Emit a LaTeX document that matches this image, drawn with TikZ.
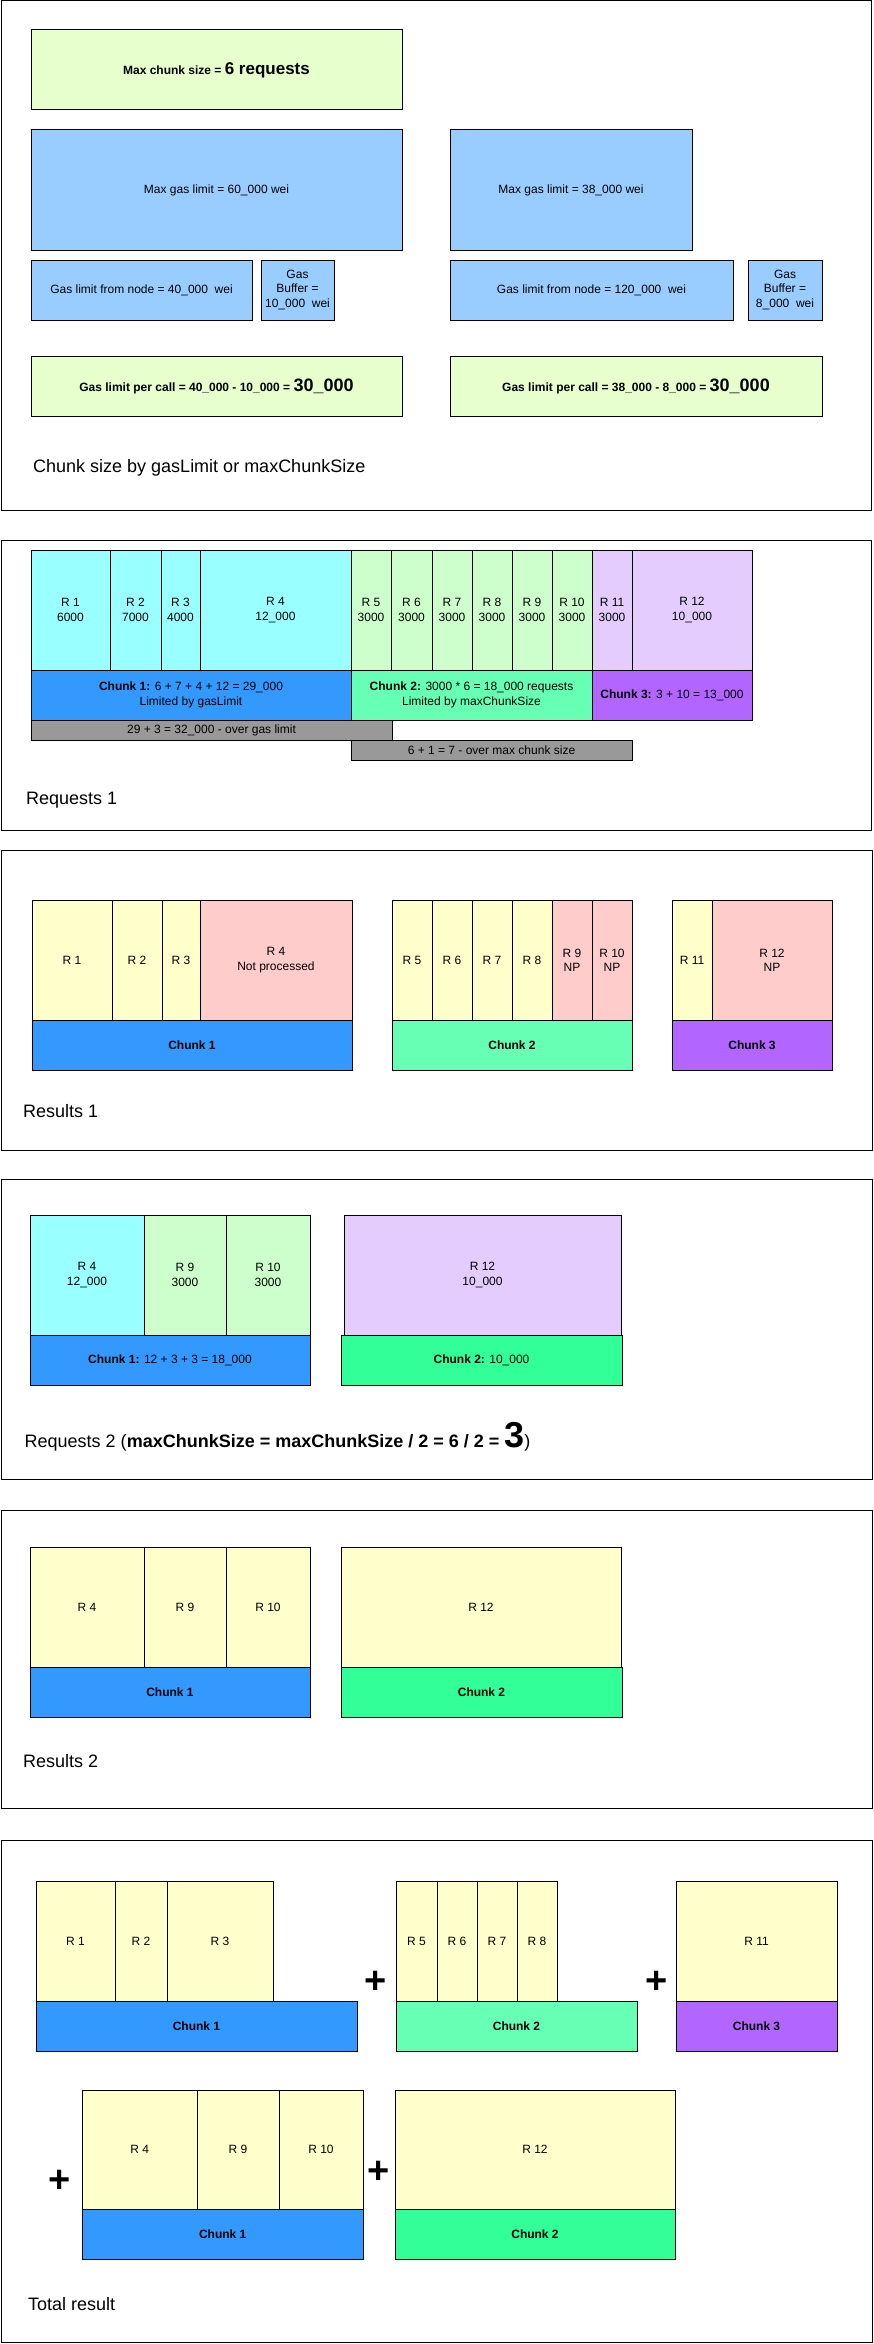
\documentclass[tikz,border=0pt]{standalone}
\usepackage{fontspec}
\setmainfont{Liberation Sans}
\definecolor{cLG}{HTML}{E6FFCC}
\definecolor{cBL}{HTML}{99CCFF}
\definecolor{cCY}{HTML}{99FFFF}
\definecolor{cRG}{HTML}{CCFFCC}
\definecolor{cLV}{HTML}{E5CCFF}
\definecolor{cC1}{HTML}{3399FF}
\definecolor{cC2}{HTML}{66FFB3}
\definecolor{cC3}{HTML}{B266FF}
\definecolor{cC4}{HTML}{33FF99}
\definecolor{cGR}{HTML}{999999}
\definecolor{cYE}{HTML}{FFFFCC}
\definecolor{cPK}{HTML}{FFCCCC}
\tikzset{
  box/.style={draw=black, line width=1pt, inner sep=0pt, outer sep=0pt, align=center,
    font=\fontsize{12}{14.4}\selectfont},
  panel/.style={draw=black, line width=1pt},
  title/.style={anchor=west, inner sep=0pt, font=\fontsize{18}{21.6}\selectfont},
  plussign/.style={anchor=base, inner sep=0pt, font=\fontsize{38}{40}\selectfont\bfseries},
}
\newcommand\bx[7]{\node[box,#2,minimum width={(#5-#3)*1pt},minimum height={(#6-#4)*1pt}] (#1) at ({(#3+#5)/2},{(#4+#6)/2}) {#7};}
\begin{document}
\begin{tikzpicture}[x=1pt,y=-1pt]
\useasboundingbox[fill=white] (0,0) rectangle (873,2344);
% panels
\draw[panel] (1,1) rectangle (871,510);
\draw[panel] (1,540) rectangle (871,830);
\draw[panel] (1.5,850) rectangle (872,1150);
\draw[panel] (1.5,1179) rectangle (872,1479);
\draw[panel] (1.5,1510) rectangle (872,1808);
\draw[panel] (1.5,1840) rectangle (872,2342);
% ---------- panel 1
\bx{maxchunk}{fill=cLG}{31}{30}{402}{110}{\textbf{Max chunk size = {\fontsize{17}{20}\selectfont 6 requests}}}
\bx{maxgasA}{fill=cBL}{31}{130}{402}{250}{Max gas limit = 60\_000 wei}
\bx{maxgasB}{fill=cBL}{450}{130}{692}{250}{Max gas limit = 38\_000 wei}
\bx{nodeA}{fill=cBL}{31}{260}{252}{320}{Gas limit from node = 40\_000\ \ wei}
\bx{bufA}{fill=cBL}{261}{260}{334}{320}{Gas\\Buffer =\\10\_000\ \ wei}
\bx{nodeB}{fill=cBL}{450}{260}{733}{320}{Gas limit from node = 120\_000\ \ wei}
\bx{bufB}{fill=cBL}{748}{260}{822}{320}{Gas\\Buffer =\\8\_000\ \ wei}
\bx{callA}{fill=cLG}{31}{356}{402}{416}{\textbf{Gas limit per call = 40\_000 - 10\_000 = {\fontsize{18}{21}\selectfont 30\_000}}}
\bx{callB}{fill=cLG}{450}{356}{822}{416}{\textbf{Gas limit per call = 38\_000 - 8\_000 = {\fontsize{18}{21}\selectfont 30\_000}}}
\node[title] (t1) at (33,468) {Chunk size by gasLimit or maxChunkSize};
% ---------- panel 2
\bx{r1}{fill=cCY}{31}{550}{110}{670}{R 1\\6000}
\bx{r2}{fill=cCY}{110}{550}{161}{670}{R 2\\7000}
\bx{r3}{fill=cCY}{161}{550}{200}{670}{R 3\\4000}
\bx{r4}{fill=cCY}{200}{550}{351}{670}{R 4\\12\_000}
\bx{r5}{fill=cRG}{351}{550}{391}{670}{R 5\\3000}
\bx{r6}{fill=cRG}{391}{550}{432}{670}{R 6\\3000}
\bx{r7}{fill=cRG}{432}{550}{472}{670}{R 7\\3000}
\bx{r8}{fill=cRG}{472}{550}{512}{670}{R 8\\3000}
\bx{r9}{fill=cRG}{512}{550}{552}{670}{R 9\\3000}
\bx{r10}{fill=cRG}{552}{550}{592}{670}{R 10\\3000}
\bx{r11}{fill=cLV}{592}{550}{632}{670}{R 11\\3000}
\bx{r12}{fill=cLV}{632}{550}{752}{670}{R 12\\10\_000}
\bx{ch1}{fill=cC1}{31}{670}{351}{720}{\textbf{Chunk 1:} 6 + 7 + 4 + 12 = 29\_000\\Limited by gasLimit}
\bx{ch2}{fill=cC2}{351}{670}{592}{720}{\textbf{Chunk 2:} 3000 * 6 = 18\_000 requests\\Limited by maxChunkSize}
\bx{ch3}{fill=cC3}{592}{670}{752}{720}{\textbf{Chunk 3:} 3 + 10 = 13\_000}
\bx{gray1}{fill=cGR}{31}{720}{392}{740}{29 + 3 = 32\_000 - over gas limit}
\bx{gray2}{fill=cGR}{351}{740}{632}{760}{6 + 1 = 7 - over max chunk size}
\node[title] (t2) at (26,800) {Requests 1};
% ---------- panel 3
\bx{q1}{fill=cYE}{32}{900}{112}{1020}{R 1}
\bx{q2}{fill=cYE}{112}{900}{162}{1020}{R 2}
\bx{q3}{fill=cYE}{162}{900}{200}{1020}{R 3}
\bx{q4}{fill=cPK}{200}{900}{352}{1020}{R 4\\Not processed}
\bx{qc1}{fill=cC1}{32}{1020}{352}{1070}{\textbf{Chunk 1}}
\bx{q5}{fill=cYE}{392}{900}{432}{1020}{R 5}
\bx{q6}{fill=cYE}{432}{900}{472}{1020}{R 6}
\bx{q7}{fill=cYE}{472}{900}{512}{1020}{R 7}
\bx{q8}{fill=cYE}{512}{900}{552}{1020}{R 8}
\bx{q9}{fill=cPK}{552}{900}{592}{1020}{R 9\\NP}
\bx{q10}{fill=cPK}{592}{900}{632}{1020}{R 10\\NP}
\bx{qc2}{fill=cC2}{392}{1020}{632}{1070}{\textbf{Chunk 2}}
\bx{q11}{fill=cYE}{672}{900}{712}{1020}{R 11}
\bx{q12}{fill=cPK}{712}{900}{832}{1020}{R 12\\NP}
\bx{qc3}{fill=cC3}{672}{1020}{832}{1070}{\textbf{Chunk 3}}
\node[title] (t3) at (23,1111) {Results 1};
% ---------- panel 4
\bx{s4}{fill=cCY}{30}{1215}{144}{1335}{R 4\\12\_000}
\bx{s9}{fill=cRG}{144}{1215}{226}{1335}{R 9\\3000}
\bx{s10}{fill=cRG}{226}{1215}{310}{1335}{R 10\\3000}
\bx{sc1}{fill=cC1}{30}{1335}{310}{1385}{\textbf{Chunk 1:} 12 + 3 + 3 = 18\_000}
\bx{s12}{fill=cLV}{344}{1215}{621}{1335}{R 12\\10\_000}
\bx{sc2}{fill=cC4}{341}{1335}{622}{1385}{\textbf{Chunk 2:} 10\_000}
\node[title] (t4) at (24.5,1437) {Requests 2 (\textbf{maxChunkSize = maxChunkSize / 2 = 6 / 2 = {\fontsize{36}{40}\selectfont 3}})};
% ---------- panel 5
\bx{u4}{fill=cYE}{30}{1547}{144}{1667}{R 4}
\bx{u9}{fill=cYE}{144}{1547}{226}{1667}{R 9}
\bx{u10}{fill=cYE}{226}{1547}{310}{1667}{R 10}
\bx{uc1}{fill=cC1}{30}{1667}{310}{1717}{\textbf{Chunk 1}}
\bx{u12}{fill=cYE}{341}{1547}{621}{1667}{R 12}
\bx{uc2}{fill=cC4}{341}{1667}{622}{1717}{\textbf{Chunk 2}}
\node[title] (t5) at (23,1761) {Results 2};
% ---------- panel 6
\bx{v1}{fill=cYE}{36}{1881}{115}{2001}{R 1}
\bx{v2}{fill=cYE}{115}{1881}{167}{2001}{R 2}
\bx{v3}{fill=cYE}{167}{1881}{273}{2001}{R 3}
\bx{vc1}{fill=cC1}{36}{2001}{357}{2051}{\textbf{Chunk 1}}
\bx{v5}{fill=cYE}{396}{1881}{437}{2001}{R 5}
\bx{v6}{fill=cYE}{437}{1881}{477}{2001}{R 6}
\bx{v7}{fill=cYE}{477}{1881}{517}{2001}{R 7}
\bx{v8}{fill=cYE}{517}{1881}{557}{2001}{R 8}
\bx{vc2}{fill=cC2}{396}{2001}{637}{2051}{\textbf{Chunk 2}}
\bx{v11}{fill=cYE}{676}{1881}{837}{2001}{R 11}
\bx{vc3}{fill=cC3}{676}{2001}{837}{2051}{\textbf{Chunk 3}}
\bx{w4}{fill=cYE}{82.5}{2090}{197}{2209}{R 4}
\bx{w9}{fill=cYE}{197}{2090}{279}{2209}{R 9}
\bx{w10}{fill=cYE}{279}{2090}{363}{2209}{R 10}
\bx{wc1}{fill=cC1}{82.5}{2209}{363}{2259}{\textbf{Chunk 1}}
\bx{w12}{fill=cYE}{395}{2090}{675}{2209}{R 12}
\bx{wc2}{fill=cC4}{395}{2209}{675}{2259}{\textbf{Chunk 2}}
\node[plussign] (p1) at (376,1993) {+};
\node[plussign] (p2) at (657,1993) {+};
\node[plussign] (p3) at (60,2192) {+};
\node[plussign] (p4) at (378.5,2183) {+};
\node[title] (t6) at (28,2304) {Total result};
\end{tikzpicture}
\end{document}
